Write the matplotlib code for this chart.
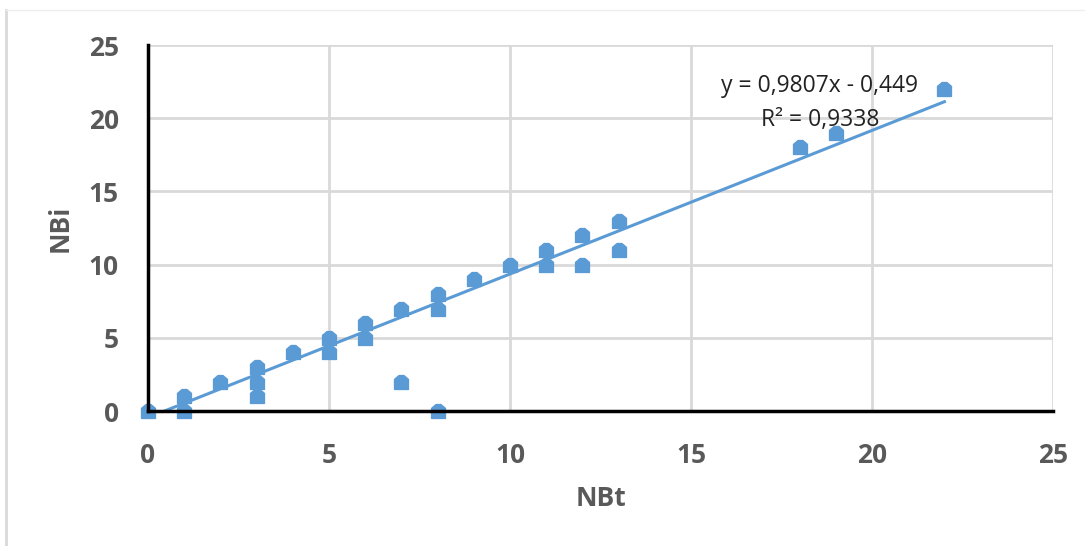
import matplotlib.pyplot as plt
from matplotlib.lines import Line2D
from matplotlib.path import Path

# NBt / NBi observations
nbt = [0, 1, 1, 2, 3, 3, 3, 4, 5, 5, 6, 6, 7, 7, 8, 8, 8, 9, 10, 11, 11, 12, 12, 13, 13, 18, 19, 22]
nbi = [0, 1, 0, 2, 3, 2, 1, 4, 5, 4, 6, 5, 7, 2, 8, 7, 0, 9, 10, 11, 10, 12, 10, 13, 11, 18, 19, 22]

# linear trendline shown on the chart
slope = 0.9807
intercept = -0.449
r2 = 0.9338

ticks = [0, 5, 10, 15, 20, 25]

blue = '#5b9bd5'
gray_text = '#595959'
grid_col = '#d9d9d9'

plt.rcParams['font.family'] = ['Open Sans', 'DejaVu Sans']

# house-like marker, as Excel draws it
house = Path([(-1, -1), (1, -1), (1, 0.45), (0.35, 1), (-0.35, 1), (-1, 0.45), (-1, -1)],
             [Path.MOVETO] + [Path.LINETO] * 5 + [Path.CLOSEPOLY])

fig = plt.figure(figsize=(10.85, 5.46), dpi=100)
ax = fig.add_axes([148 / 1085, 1 - 411 / 546, (1053 - 148) / 1085, (411 - 45) / 546])

# trendline from x where y=0 up to max x
x0 = -intercept / slope
x1 = max(nbt)
ax.plot([x0, x1], [slope * x0 + intercept, slope * x1 + intercept],
        color=blue, lw=2.2, zorder=3)

ax.scatter(nbt, nbi, marker=house, s=100, color=blue, zorder=4, clip_on=False)

ax.set_xlim(0, 25)
ax.set_ylim(0, 25)
ax.set_xticks(ticks)
ax.set_yticks(ticks)
ax.grid(True, color=grid_col, lw=2)
ax.set_axisbelow(True)
for s in ['top', 'right']:
    ax.spines[s].set_visible(False)
for s in ['left', 'bottom']:
    ax.spines[s].set_color('black')
    ax.spines[s].set_linewidth(2.5)
    ax.spines[s].set_zorder(5)
ax.tick_params(axis='x', length=0, labelsize=19, labelcolor=gray_text, pad=22)
ax.tick_params(axis='y', length=0, labelsize=19, labelcolor=gray_text, pad=21)
for lab in ax.get_xticklabels() + ax.get_yticklabels():
    lab.set_fontweight('bold')

ax.set_xlabel('NBt', fontsize=19, fontweight='bold', color=gray_text, labelpad=12)
ax.set_ylabel('NBi', fontsize=19, fontweight='bold', color=gray_text, labelpad=11)

eq = f'y = {slope:.4f}x - {abs(intercept):.3f}'.replace('.', ',')
r2txt = f'R² = {r2:.4f}'.replace('.', ',')
ax.text(18.56, 21.05, eq + '\n' + r2txt, ha='center', va='center',
        fontsize=16.5, color='#222222', linespacing=1.55)

# light frame of the chart area
fig.add_artist(Line2D([6 / 1085, 6 / 1085], [0, 1 - 10 / 546], color='#d9d9d9', lw=2))
fig.add_artist(Line2D([6 / 1085, 1], [1 - 10 / 546, 1 - 10 / 546], color='#eeeeee', lw=1))

fig.savefig('out.png', dpi=100)
